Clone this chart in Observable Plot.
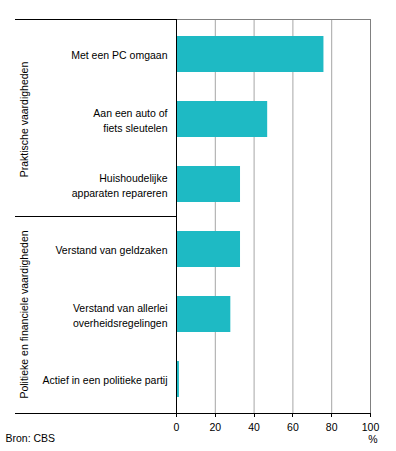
<!DOCTYPE html>
<html><head><meta charset="utf-8">
<script src="https://cdn.jsdelivr.net/npm/d3@7"></script>
<script src="https://cdn.jsdelivr.net/npm/@observablehq/plot@0.6"></script>
<style>body{margin:0;background:#fff} #chart svg{font-family:"Liberation Sans",Arial,sans-serif;background:#fff}</style>
</head><body><div id="chart"></div>
<script>
const categories = ["Met een PC omgaan", "Aan een auto of\nfiets sleutelen", "Huishoudelijke\napparaten repareren", "Verstand van geldzaken", "Verstand van allerlei\noverheidsregelingen", "Actief in een politieke partij"];
const values = [76, 47, 33, 33, 28, 1.5];
const groups = ["Praktische vaardigheden", "Politieke en financiele vaardigheden"];
const groupOf = [0, 0, 0, 1, 1, 1];
const xTicks = [0, 20, 40, 60, 80, 100];
const source = "Bron: CBS";
const unit = "%";

const data = categories.map((c, i) => ({category: c, value: values[i]}));
const groupLabels = groups.map((g, gi) => {
  const cats = categories.filter((c, i) => groupOf[i] === gi);
  return {group: g, mid: cats[Math.floor(cats.length / 2)]};
});

function frameLines(index, scales, vals, dims) {
  const g = d3.create("svg:g").attr("fill", "none");
  const top = dims.marginTop, bottom = dims.height - dims.marginBottom;
  const right = dims.width - dims.marginRight;
  const x0 = scales.x(0);
  const leftEdge = 15;
  const n = categories.length;
  const step = (bottom - top) / n;
  g.append("line").attr("x1", x0).attr("x2", right).attr("y1", top + 0.5).attr("y2", top + 0.5).attr("stroke", "#808080");
  g.append("line").attr("x1", right + 0.5).attr("x2", right + 0.5).attr("y1", top).attr("y2", bottom).attr("stroke", "#808080");
  const black = "#000";
  g.append("line").attr("x1", leftEdge).attr("x2", x0 + 0.5).attr("y1", top + 0.5).attr("y2", top + 0.5).attr("stroke", black);
  let count = 0;
  for (let gi = 0; gi < groups.length - 1; gi++) {
    count += groupOf.filter(v => v === gi).length;
    const yb = Math.round(top + count * step) + 0.5;
    g.append("line").attr("x1", leftEdge).attr("x2", x0).attr("y1", yb).attr("y2", yb).attr("stroke", black);
  }
  g.append("line").attr("x1", x0 + 0.5).attr("x2", x0 + 0.5).attr("y1", top).attr("y2", bottom).attr("stroke", black);
  g.append("line").attr("x1", leftEdge).attr("x2", right + 1).attr("y1", bottom + 0.5).attr("y2", bottom + 0.5).attr("stroke", black);
  for (const t of xTicks) {
    const xt = Math.round(scales.x(t)) + 0.5;
    g.append("line").attr("x1", xt).attr("x2", xt).attr("y1", bottom).attr("y2", bottom + 4).attr("stroke", black);
  }
  return g.node();
}

const chart = Plot.plot({
  width: 396,
  height: 451,
  marginTop: 19,
  marginBottom: 38,
  marginLeft: 176,
  marginRight: 26,
  style: {fontFamily: '"Liberation Sans", Arial, sans-serif', fontSize: "10.5px", background: "#fff"},
  x: {domain: [0, 100], label: null, axis: null},
  y: {domain: categories, paddingInner: 0.45, paddingOuter: 0.225, axis: null, label: null},
  marks: [
    Plot.gridX(xTicks.slice(1, -1), {stroke: "#a6a6a6", strokeOpacity: 1}),
    Plot.barX(data, {x: "value", y: "category", fill: "#1ebac4"}),
    frameLines,
    Plot.axisX(xTicks, {tickSize: 0, tickPadding: 10, fontSize: 10.5, fill: "#000", tickFormat: d => String(d)}),
    Plot.text(data, {y: "category", text: "category", frameAnchor: "left", dx: -9, textAnchor: "end", lineHeight: 1.43, fontSize: 10.5, fill: "#000"}),
    Plot.text(groupLabels, {y: "mid", text: "group", frameAnchor: "left", dx: -152, rotate: -90, textAnchor: "middle", fontSize: 10.5, fill: "#000"}),
    Plot.text([source], {frameAnchor: "bottom-left", dx: -171, dy: 28, textAnchor: "start", fontSize: 10.5, fill: "#000"}),
    Plot.text([unit], {frameAnchor: "bottom-right", dx: 7, dy: 29, fontSize: 10.5, fill: "#000"})
  ]
});
document.getElementById("chart").appendChild(chart);
</script>
</body></html>
